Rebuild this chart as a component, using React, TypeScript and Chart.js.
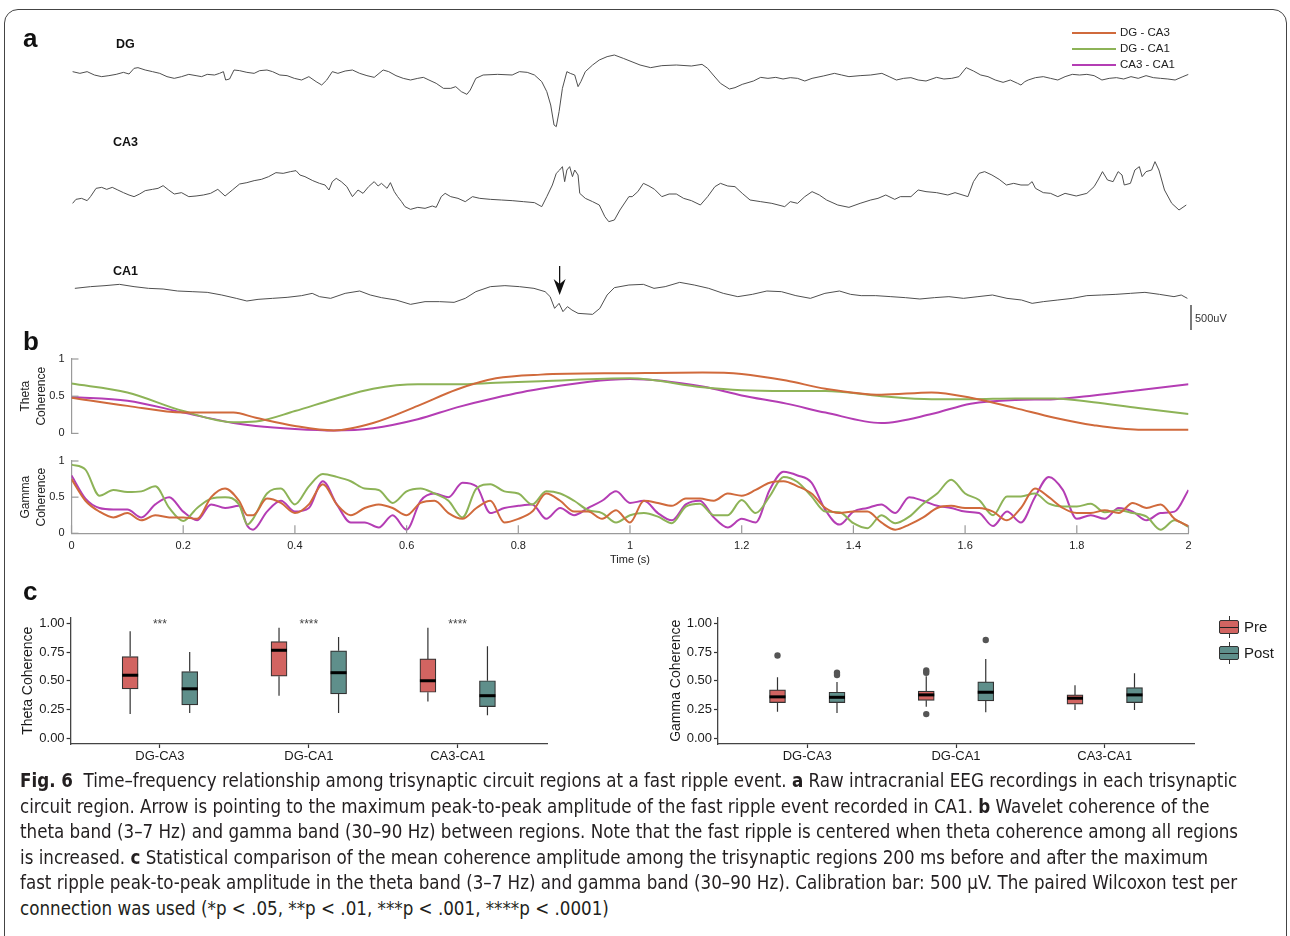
import React, { useEffect, useRef } from "react";
import { Chart, registerables } from "chart.js";

Chart.register(...registerables);

const FONT = '"Liberation Sans", Arial, Helvetica, sans-serif';
const CAPTION_FONT = '"Liberation Sans Narrow", "DejaVu Sans Condensed", "Liberation Sans", sans-serif';
Chart.defaults.font.family = FONT;

// ---------------- Panel a : raw traces (time s, amplitude µV re baseline) ----------------
const TRACE_NAMES = ["DG", "CA3", "CA1"];
const DG_TRACE = [
  [0.002, 67], [0.015, 33], [0.028, 67], [0.041, 0], [0.054, -33], [0.067, -13], [0.08, 13], [0.093, 53], [0.103, 20], [0.112, 133],
  [0.119, 147], [0.132, 100], [0.145, 67], [0.158, 33], [0.171, -33], [0.184, -67], [0.197, -33], [0.21, 13], [0.223, -13], [0.233, -33],
  [0.243, 13], [0.256, 0], [0.265, 33], [0.272, 67], [0.276, -100], [0.283, -80], [0.291, 100], [0.301, 87], [0.314, 53], [0.327, 33],
  [0.337, 87], [0.35, 100], [0.36, 67], [0.373, 0], [0.386, -13], [0.399, -67], [0.412, -100], [0.425, -33], [0.438, -133], [0.448, -200],
  [0.457, -100], [0.467, 67], [0.477, 33], [0.49, 80], [0.503, 100], [0.516, 33], [0.529, -13], [0.542, -47], [0.558, 100], [0.568, 67],
  [0.581, -13], [0.594, -67], [0.607, -100], [0.62, -67], [0.63, -47], [0.64, -100], [0.653, -167], [0.666, -267], [0.679, -267], [0.688, -233],
  [0.698, -333], [0.708, -387], [0.714, -300], [0.724, -67], [0.737, 0], [0.763, 13], [0.789, 0], [0.802, 67], [0.816, 53], [0.829, 0],
  [0.842, -133], [0.851, -333], [0.858, -600], [0.864, -1000], [0.868, -1033], [0.873, -733], [0.879, -267], [0.887, 67], [0.893, 33], [0.901, 0],
  [0.907, -233], [0.912, -133], [0.92, 67], [0.933, 200], [0.945, 300], [0.959, 367], [0.972, 400], [0.988, 333], [1.018, 200], [1.037, 147],
  [1.057, 187], [1.083, 200], [1.11, 180], [1.129, 213], [1.139, 133], [1.149, 0], [1.162, -167], [1.178, -280], [1.188, -253], [1.201, -187],
  [1.221, -120], [1.234, -47], [1.247, -67], [1.261, -47], [1.274, -80], [1.287, -53], [1.3, -67], [1.313, -120], [1.326, -67], [1.346, -20],
  [1.366, 33], [1.379, 0], [1.392, -33], [1.412, -13], [1.431, 0], [1.451, 33], [1.464, -33], [1.477, -100], [1.49, -67], [1.503, -53],
  [1.516, -100], [1.53, -120], [1.549, -47], [1.562, -80], [1.576, -67], [1.589, -33], [1.602, 147], [1.615, 80], [1.628, 0], [1.641, -33],
  [1.654, -100], [1.668, -147], [1.681, -100], [1.694, -167], [1.7, -200], [1.707, -133], [1.713, -100], [1.726, -53], [1.74, -33], [1.753, -67],
  [1.766, -100], [1.779, -33], [1.792, 13], [1.805, 0], [1.818, 13], [1.831, -13], [1.845, -100], [1.858, -67], [1.871, -53], [1.884, -80],
  [1.897, -33], [1.91, -67], [1.924, -13], [1.937, -53], [1.95, -67], [1.963, -80], [1.976, -100], [1.99, -33], [2.0, 13],
];
const CA3_TRACE = [
  [0.002, -267], [0.008, -187], [0.018, -167], [0.028, -213], [0.034, -133], [0.044, 33], [0.054, 53], [0.063, 13], [0.073, 53], [0.083, 0],
  [0.093, -53], [0.103, -100], [0.112, -133], [0.122, -80], [0.132, -13], [0.145, 13], [0.155, 33], [0.164, 87], [0.174, 0], [0.184, -80],
  [0.197, -53], [0.21, -133], [0.223, -120], [0.236, -100], [0.249, -67], [0.262, 13], [0.275, -120], [0.288, 0], [0.301, 120], [0.314, 147],
  [0.327, 187], [0.34, 213], [0.353, 267], [0.366, 347], [0.379, 333], [0.392, 367], [0.402, 387], [0.409, 300], [0.418, 267], [0.432, 187],
  [0.444, 133], [0.454, 100], [0.461, 0], [0.467, 167], [0.474, 233], [0.483, 167], [0.493, 67], [0.503, -133], [0.513, 0], [0.522, -67],
  [0.532, 67], [0.542, 167], [0.549, 80], [0.555, 133], [0.565, 33], [0.571, 147], [0.578, -33], [0.584, -133], [0.591, -233], [0.597, -333],
  [0.607, -387], [0.62, -347], [0.633, -367], [0.646, -320], [0.653, -347], [0.662, -133], [0.669, -67], [0.679, -133], [0.692, -167], [0.705, -233],
  [0.718, -133], [0.731, -167], [0.75, -187], [0.77, -200], [0.789, -213], [0.809, -233], [0.829, -253], [0.842, -333], [0.851, -133], [0.861, 100],
  [0.868, 333], [0.874, 400], [0.879, 467], [0.883, 167], [0.887, 400], [0.892, 467], [0.897, 267], [0.901, 400], [0.907, 300], [0.91, -67],
  [0.92, -167], [0.933, -233], [0.945, -300], [0.955, -533], [0.962, -633], [0.972, -600], [0.982, -400], [0.998, -133], [1.004, -133], [1.014, -33],
  [1.024, 133], [1.034, 80], [1.044, 13], [1.057, -133], [1.07, -80], [1.083, -80], [1.096, -167], [1.11, -213], [1.126, -300], [1.139, -133],
  [1.152, 67], [1.162, 133], [1.175, 80], [1.188, 67], [1.201, -67], [1.215, -200], [1.234, -233], [1.254, -267], [1.277, -333], [1.287, -233],
  [1.3, -267], [1.313, -133], [1.326, -33], [1.339, -100], [1.352, -200], [1.372, -300], [1.392, -347], [1.412, -267], [1.431, -200], [1.444, -167],
  [1.458, -100], [1.474, -187], [1.484, -133], [1.503, -133], [1.516, 0], [1.53, -33], [1.549, -53], [1.569, -100], [1.582, -53], [1.605, -133],
  [1.615, 167], [1.625, 333], [1.635, 367], [1.648, 300], [1.661, 213], [1.674, 100], [1.687, 133], [1.7, 100], [1.713, 100], [1.72, 167],
  [1.726, 33], [1.74, -53], [1.753, -67], [1.766, -133], [1.779, -67], [1.799, -120], [1.818, -67], [1.831, 67], [1.838, 200], [1.846, 367],
  [1.855, 200], [1.865, 167], [1.874, 367], [1.881, 300], [1.885, 100], [1.896, 133], [1.904, 400], [1.912, 467], [1.917, 267], [1.924, 367],
  [1.934, 400], [1.94, 567], [1.947, 400], [1.957, 0], [1.97, -267], [1.983, -400], [1.996, -300],
];
const CA1_TRACE = [
  [0.006, 153], [0.034, 187], [0.06, 207], [0.086, 233], [0.112, 187], [0.138, 153], [0.164, 140], [0.19, 100], [0.216, 87], [0.243, 73],
  [0.269, 20], [0.295, -47], [0.314, -100], [0.334, -67], [0.36, -47], [0.386, -27], [0.412, 7], [0.431, 53], [0.444, -13], [0.464, -47],
  [0.49, 53], [0.516, 100], [0.535, 20], [0.555, -33], [0.581, -80], [0.607, -167], [0.633, -113], [0.659, -113], [0.685, -127], [0.705, -47],
  [0.724, 87], [0.75, 187], [0.776, 207], [0.802, 187], [0.828, 153], [0.848, 87], [0.857, -13], [0.865, -247], [0.873, -147], [0.88, -313],
  [0.888, -213], [0.896, -280], [0.907, -347], [0.933, -367], [0.946, -247], [0.959, 20], [0.972, 167], [0.998, 220], [1.024, 233], [1.043, 153],
  [1.063, 187], [1.089, 273], [1.115, 220], [1.141, 153], [1.167, 53], [1.193, -13], [1.219, 33], [1.245, 100], [1.271, 87], [1.297, 7],
  [1.323, -47], [1.349, 53], [1.375, 100], [1.395, 33], [1.414, 7], [1.44, 7], [1.467, -13], [1.493, -33], [1.519, -60], [1.545, -33],
  [1.571, -13], [1.597, -47], [1.623, -13], [1.649, 20], [1.675, -47], [1.701, -80], [1.72, -147], [1.74, -113], [1.766, -80], [1.792, -47],
  [1.818, 7], [1.844, 20], [1.87, 33], [1.896, 53], [1.922, 73], [1.948, 33], [1.974, -13], [1.987, 20], [1.998, -47],
];
const ARROW_TIME = 0.874;
const CALIBRATION_UV = 500;

// ---------------- Panel b : wavelet coherence ----------------
const PAIRS = ["DG - CA3", "DG - CA1", "CA3 - CA1"];
const THETA_T = [0, 0.1, 0.2, 0.29, 0.33, 0.4, 0.47, 0.54, 0.62, 0.69, 0.76, 0.84, 1.0, 1.13, 1.2, 1.28, 1.35, 1.45, 1.54, 1.61, 1.69, 1.76, 1.83, 1.91, 2.0];
const THETA_DG_CA3 = [0.48, 0.37, 0.28, 0.28, 0.21, 0.1, 0.04, 0.14, 0.37, 0.59, 0.74, 0.79, 0.81, 0.82, 0.8, 0.71, 0.6, 0.52, 0.55, 0.48, 0.34, 0.21, 0.11, 0.05, 0.05];
const THETA_DG_CA1 = [0.67, 0.55, 0.3, 0.15, 0.16, 0.3, 0.46, 0.6, 0.66, 0.66, 0.68, 0.7, 0.74, 0.62, 0.58, 0.57, 0.57, 0.5, 0.46, 0.46, 0.47, 0.47, 0.42, 0.34, 0.26];
const THETA_CA3_CA1 = [0.49, 0.44, 0.28, 0.14, 0.1, 0.06, 0.04, 0.07, 0.19, 0.35, 0.48, 0.6, 0.73, 0.63, 0.51, 0.4, 0.28, 0.14, 0.26, 0.4, 0.45, 0.46, 0.51, 0.58, 0.66];

const GAMMA_T = [
  0, 0.025, 0.05, 0.075, 0.1, 0.125, 0.15, 0.175, 0.2, 0.225,
  0.25, 0.275, 0.3, 0.315, 0.325, 0.35, 0.375, 0.4, 0.425, 0.45,
  0.475, 0.5, 0.525, 0.55, 0.575, 0.6, 0.625, 0.65, 0.675, 0.7,
  0.725, 0.75, 0.775, 0.8, 0.825, 0.85, 0.875, 0.9, 0.925, 0.95,
  0.975, 1, 1.025, 1.05, 1.075, 1.1, 1.125, 1.15, 1.175, 1.2,
  1.225, 1.25, 1.275, 1.3, 1.325, 1.35, 1.375, 1.4, 1.425, 1.45,
  1.475, 1.5, 1.525, 1.55, 1.575, 1.6, 1.625, 1.65, 1.675, 1.7,
  1.725, 1.75, 1.775, 1.8, 1.825, 1.85, 1.875, 1.9, 1.925, 1.95,
  1.975, 2,
];
const GAMMA_DG_CA3 = [
  0.75, 0.45, 0.3, 0.22, 0.28, 0.18, 0.25, 0.22, 0.22, 0.2,
  0.5, 0.62, 0.45, 0.25, 0.25, 0.48, 0.42, 0.28, 0.4, 0.68,
  0.4, 0.25, 0.35, 0.4, 0.35, 0.25, 0.42, 0.45, 0.28, 0.2,
  0.35, 0.45, 0.15, 0.2, 0.3, 0.55, 0.45, 0.3, 0.3, 0.2,
  0.32, 0.15, 0.45, 0.42, 0.38, 0.48, 0.48, 0.45, 0.55, 0.52,
  0.6, 0.7, 0.72, 0.65, 0.55, 0.35, 0.28, 0.3, 0.3, 0.15,
  0.05, 0.12, 0.22, 0.35, 0.38, 0.35, 0.35, 0.3, 0.18, 0.35,
  0.62, 0.5, 0.35, 0.28, 0.28, 0.32, 0.28, 0.42, 0.35, 0.4,
  0.2, 0.1,
];
const GAMMA_DG_CA1 = [
  0.95, 0.88, 0.52, 0.6, 0.57, 0.58, 0.65, 0.35, 0.17, 0.35,
  0.48, 0.5, 0.4, 0.12, 0.2, 0.55, 0.62, 0.4, 0.65, 0.82,
  0.78, 0.72, 0.62, 0.6, 0.42, 0.58, 0.62, 0.55, 0.45, 0.22,
  0.62, 0.68, 0.58, 0.55, 0.4, 0.58, 0.55, 0.45, 0.32, 0.28,
  0.15, 0.25, 0.28, 0.23, 0.14, 0.37, 0.41, 0.25, 0.25, 0.46,
  0.28, 0.51, 0.78, 0.71, 0.51, 0.3, 0.29, 0.14, 0.07, 0.25,
  0.14, 0.23, 0.41, 0.55, 0.74, 0.55, 0.46, 0.25, 0.51, 0.51,
  0.55, 0.41, 0.37, 0.37, 0.41, 0.29, 0.32, 0.28, 0.23, 0.05,
  0.18, 0.09,
];
const GAMMA_CA3_CA1 = [
  0.8, 0.48, 0.35, 0.33, 0.33, 0.22, 0.4, 0.5, 0.3, 0.18,
  0.4, 0.35, 0.38, 0.1, 0.05, 0.3, 0.45, 0.3, 0.35, 0.72,
  0.4, 0.15, 0.15, 0.08, 0.25, 0.05, 0.45, 0.55, 0.5, 0.7,
  0.65, 0.28, 0.35, 0.38, 0.4, 0.2, 0.35, 0.25, 0.35, 0.45,
  0.58, 0.42, 0.45, 0.28, 0.18, 0.4, 0.45, 0.22, 0.08, 0.2,
  0.15, 0.6, 0.85, 0.8, 0.7, 0.32, 0.12, 0.3, 0.35, 0.4,
  0.28, 0.5, 0.45, 0.38, 0.35, 0.3, 0.28, 0.1, 0.3, 0.15,
  0.5, 0.78, 0.6, 0.2, 0.25, 0.2, 0.35, 0.3, 0.18, 0.28,
  0.3, 0.6,
];
const TIME_TICKS = [0, 0.2, 0.4, 0.6, 0.8, 1, 1.2, 1.4, 1.6, 1.8, 2];
const COH_TICKS = [0, 0.5, 1];

// ---------------- Panel c : box plots [min, q1, median, q3, max] ----------------
const CONNECTIONS = ["DG-CA3", "DG-CA1", "CA3-CA1"];
const BOX_TICKS = [0, 0.25, 0.5, 0.75, 1];
const THETA_PRE = [[0.21, 0.43, 0.548, 0.71, 0.93], [0.37, 0.54, 0.765, 0.84, 0.96], [0.32, 0.4, 0.5, 0.69, 0.96]];
const THETA_POST = [[0.22, 0.29, 0.43, 0.58, 0.75], [0.22, 0.385, 0.57, 0.76, 0.88], [0.2, 0.275, 0.37, 0.5, 0.8]];
const THETA_STARS = ["***", "****", "****"];
const GAMMA_PRE = [[0.23, 0.31, 0.36, 0.42, 0.53], [0.275, 0.33, 0.377, 0.41, 0.54], [0.246, 0.296, 0.348, 0.377, 0.46]];
const GAMMA_POST = [[0.22, 0.31, 0.356, 0.4, 0.49], [0.226, 0.325, 0.4, 0.49, 0.69], [0.246, 0.31, 0.377, 0.44, 0.565]];
const GAMMA_PRE_OUTLIERS = [[0.72], [0.59, 0.57, 0.21], []];
const GAMMA_POST_OUTLIERS = [[0.57, 0.55], [0.855], []];
const GROUPS = ["Pre", "Post"];

// ---------------- styles ----------------
const COL_DG_CA3 = "#d06a3c";
const COL_DG_CA1 = "#8db357";
const COL_CA3_CA1 = "#b43db4";
const PAIR_COLORS = [COL_DG_CA3, COL_DG_CA1, COL_CA3_CA1];
const PRE_FILL = "#d26461";
const POST_FILL = "#5f8f8b";
const BOX_EDGE = "#333333";
const MATLAB_AXIS = "#9a9a9a";

// layout (pixels / µV offsets for stacking traces)
const UV_PER_PX = 20;
const TRACE_BASE_PX = [75, 190, 296];
const CAL_BOTTOM_PX = 330;
const DODGE = 0.2;

function ChartCanvas({ left, top, width, height, make }) {
  const ref = useRef(null);
  useEffect(() => {
    const chart = new Chart(ref.current, make());
    return () => chart.destroy();
  }, []);
  return (
    <canvas
      ref={ref}
      width={width}
      height={height}
      style={{ position: "absolute", left, top, width, height }}
    />
  );
}

// ---------- panel a ----------
const traceDecor = {
  id: "traceDecor",
  afterDatasetsDraw(chart) {
    const { ctx } = chart;
    const x = chart.scales.x;
    const y = chart.scales.y;
    ctx.save();
    // arrow over CA1 fast ripple
    const ax = x.getPixelForValue(ARROW_TIME);
    const tip = y.getPixelForValue(-TRACE_BASE_PX[2] * UV_PER_PX + 20);
    ctx.strokeStyle = "#111";
    ctx.fillStyle = "#111";
    ctx.lineWidth = 1.3;
    ctx.beginPath();
    ctx.moveTo(ax, tip - 29);
    ctx.lineTo(ax, tip - 8);
    ctx.stroke();
    ctx.beginPath();
    ctx.moveTo(ax, tip);
    ctx.lineTo(ax - 6, tip - 16);
    ctx.lineTo(ax, tip - 11);
    ctx.lineTo(ax + 6, tip - 16);
    ctx.closePath();
    ctx.fill();
    // calibration bar
    const bx = x.getPixelForValue(2) + 2.5;
    const b0 = y.getPixelForValue(-CAL_BOTTOM_PX * UV_PER_PX);
    const b1 = y.getPixelForValue(-CAL_BOTTOM_PX * UV_PER_PX + CALIBRATION_UV);
    ctx.lineWidth = 1.2;
    ctx.strokeStyle = "#222";
    ctx.beginPath();
    ctx.moveTo(bx, b0);
    ctx.lineTo(bx, b1);
    ctx.stroke();
    ctx.font = "11px " + FONT;
    ctx.fillStyle = "#333";
    ctx.textBaseline = "middle";
    ctx.fillText(CALIBRATION_UV + "uV", bx + 4, (b0 + b1) / 2 + 1);
    ctx.restore();
  },
};

function makeTraces() {
  const traces = [DG_TRACE, CA3_TRACE, CA1_TRACE];
  return {
    type: "line",
    data: {
      datasets: traces.map((tr, i) => ({
        label: TRACE_NAMES[i],
        data: tr.map(([t, v]) => ({ x: t, y: v - TRACE_BASE_PX[i] * UV_PER_PX })),
        borderColor: "#4f4f4f",
        borderWidth: 1,
        pointRadius: 0,
        tension: 0,
      })),
    },
    options: {
      animation: false,
      responsive: false,
      events: [],
      layout: { padding: { left: 71.5, right: 101.5, top: 0, bottom: 0 } },
      plugins: { legend: { display: false }, tooltip: { enabled: false } },
      scales: {
        x: { type: "linear", min: 0, max: 2, display: false },
        y: { type: "linear", min: -345 * UV_PER_PX, max: 0, display: false },
      },
    },
    plugins: [traceDecor],
  };
}

// ---------- panel b ----------
const inwardTicks = {
  id: "inwardTicks",
  afterDraw(chart) {
    const { ctx, chartArea } = chart;
    ctx.save();
    ctx.strokeStyle = MATLAB_AXIS;
    ctx.lineWidth = 1.2;
    const y = chart.scales.y;
    COH_TICKS.forEach((v) => {
      const py = y.getPixelForValue(v);
      ctx.beginPath();
      ctx.moveTo(chartArea.left, py);
      ctx.lineTo(chartArea.left + 7, py);
      ctx.stroke();
    });
    const x = chart.scales.x;
    if (x.options.display) {
      TIME_TICKS.forEach((v) => {
        const px = x.getPixelForValue(v);
        ctx.beginPath();
        ctx.moveTo(px, chartArea.bottom);
        ctx.lineTo(px, chartArea.bottom - 8);
        ctx.stroke();
      });
    }
    ctx.restore();
  },
};

function makeCoherence(times, series, title, showX) {
  return {
    type: "line",
    data: {
      datasets: series.map((vals, i) => ({
        label: PAIRS[i],
        data: times.map((t, k) => ({ x: t, y: vals[k] })),
        borderColor: PAIR_COLORS[i],
        borderWidth: 2,
        pointRadius: 0,
        cubicInterpolationMode: "monotone",
      })),
    },
    options: {
      animation: false,
      responsive: false,
      events: [],
      layout: { padding: { left: 0, right: 101.5, top: showX ? 16 : 19, bottom: showX ? 0 : 2 } },
      plugins: { legend: { display: false }, tooltip: { enabled: false } },
      scales: {
        x: {
          type: "linear",
          min: 0,
          max: 2,
          display: showX,
          afterBuildTicks: (s) => {
            s.ticks = TIME_TICKS.map((v) => ({ value: v }));
          },
          ticks: {
            autoSkip: false,
            maxRotation: 0,
            padding: 6,
            color: "#222",
            font: { size: 11 },
            callback: (v) => String(Number(Number(v).toFixed(1))),
          },
          grid: { display: false, drawTicks: false },
          border: { display: true, color: MATLAB_AXIS, width: 1.2 },
          title: { display: true, text: "Time (s)", color: "#222", font: { size: 11 }, padding: { top: 0, bottom: 3 } },
          afterFit: (s) => {
            if (showX) s.height = 36.7;
          },
        },
        y: {
          type: "linear",
          min: 0,
          max: 1,
          afterBuildTicks: (s) => {
            s.ticks = COH_TICKS.map((v) => ({ value: v }));
          },
          ticks: { padding: 7, color: "#222", font: { size: 11 }, callback: (v) => String(Number(v)) },
          grid: { display: false, drawTicks: false },
          border: { display: true, color: MATLAB_AXIS, width: 1.2 },
          title: {
            display: true,
            text: title,
            color: "#222",
            font: { size: 12, lineHeight: 1.3 },
            padding: { top: 18, bottom: 0 },
          },
          afterFit: (s) => {
            s.width = 71.5;
          },
        },
      },
    },
    plugins: [inwardTicks],
  };
}

// ---------- panel c ----------
const boxDecor = {
  id: "boxDecor",
  beforeDatasetsDraw(chart, args, opts) {
    const { ctx } = chart;
    const x = chart.scales.x;
    const y = chart.scales.y;
    ctx.save();
    ctx.strokeStyle = BOX_EDGE;
    ctx.lineWidth = 1.2;
    [opts.pre, opts.post].forEach((grp, g) => {
      grp.forEach((b, i) => {
        const px = x.getPixelForValue(i + 1 + (g === 0 ? -DODGE : DODGE));
        ctx.beginPath();
        ctx.moveTo(px, y.getPixelForValue(b[0]));
        ctx.lineTo(px, y.getPixelForValue(b[1]));
        ctx.moveTo(px, y.getPixelForValue(b[3]));
        ctx.lineTo(px, y.getPixelForValue(b[4]));
        ctx.stroke();
      });
    });
    ctx.restore();
  },
  afterDatasetsDraw(chart, args, opts) {
    const { ctx } = chart;
    const x = chart.scales.x;
    const y = chart.scales.y;
    ctx.save();
    ctx.strokeStyle = "#000";
    ctx.lineWidth = 3;
    [opts.pre, opts.post].forEach((grp, g) => {
      grp.forEach((b, i) => {
        const px = x.getPixelForValue(i + 1 + (g === 0 ? -DODGE : DODGE));
        const py = y.getPixelForValue(b[2]);
        ctx.beginPath();
        ctx.moveTo(px - 8, py);
        ctx.lineTo(px + 8, py);
        ctx.stroke();
      });
    });
    if (opts.stars) {
      ctx.fillStyle = "#444";
      ctx.font = "12px " + FONT;
      ctx.textAlign = "center";
      ctx.textBaseline = "alphabetic";
      opts.stars.forEach((s, i) => {
        ctx.fillText(s, x.getPixelForValue(i + 1), y.getPixelForValue(0.962));
      });
    }
    ctx.restore();
  },
};

function makeBox(pre, post, preOut, postOut, title, stars, yWidth, rightPad, titlePad) {
  const outliers = [];
  preOut.forEach((arr, i) => arr.forEach((v) => outliers.push({ x: i + 1 - DODGE, y: v })));
  postOut.forEach((arr, i) => arr.forEach((v) => outliers.push({ x: i + 1 + DODGE, y: v })));
  const boxDs = (grp, g) => ({
    type: "bar",
    label: GROUPS[g],
    data: grp.map((b, i) => ({ x: i + 1 + (g === 0 ? -DODGE : DODGE), y: [b[1], b[3]] })),
    backgroundColor: g === 0 ? PRE_FILL : POST_FILL,
    borderColor: BOX_EDGE,
    borderWidth: 1.2,
    borderSkipped: false,
    barThickness: 16,
    grouped: false,
  });
  return {
    type: "bar",
    data: {
      datasets: [
        boxDs(pre, 0),
        boxDs(post, 1),
        { type: "scatter", label: "outliers", data: outliers, pointRadius: 3.2, backgroundColor: "#555", borderWidth: 0 },
      ],
    },
    options: {
      animation: false,
      responsive: false,
      events: [],
      layout: { padding: { left: 0, right: rightPad, top: 17.5, bottom: 0 } },
      plugins: {
        legend: { display: false },
        tooltip: { enabled: false },
        boxDecor: { pre, post, stars },
      },
      scales: {
        x: {
          type: "linear",
          min: 0.4,
          max: 3.6,
          offset: false,
          afterBuildTicks: (s) => {
            s.ticks = [1, 2, 3].map((v) => ({ value: v }));
          },
          ticks: {
            autoSkip: false,
            maxRotation: 0,
            padding: 1,
            color: "#1a1a1a",
            font: { size: 13 },
            callback: (v) => CONNECTIONS[Math.round(v) - 1],
          },
          grid: { display: true, offset: false, drawOnChartArea: false, drawTicks: true, tickLength: 4, color: BOX_EDGE, tickWidth: 1.2 },
          border: { display: true, color: "#444", width: 1.3 },
          afterFit: (s) => {
            s.height = 26;
          },
        },
        y: {
          type: "linear",
          min: -0.05,
          max: 1.05,
          afterBuildTicks: (s) => {
            s.ticks = BOX_TICKS.map((v) => ({ value: v }));
          },
          ticks: { padding: 2, color: "#1a1a1a", font: { size: 13 }, callback: (v) => Number(v).toFixed(2) },
          grid: { display: true, drawOnChartArea: false, drawTicks: true, tickLength: 4, color: BOX_EDGE, tickWidth: 1.2 },
          border: { display: true, color: "#444", width: 1.3 },
          title: { display: true, text: title, color: "#1a1a1a", font: { size: 14 }, padding: { top: titlePad, bottom: 4 } },
          afterFit: (s) => {
            s.width = yWidth;
          },
        },
      },
    },
    plugins: [boxDecor],
  };
}

function Txt({ left, top, size, bold, children, color, family }) {
  return (
    <div
      style={{
        position: "absolute",
        left,
        top,
        fontSize: size,
        lineHeight: 1,
        fontWeight: bold ? 700 : 400,
        fontFamily: family || FONT,
        color: color || "#111",
        whiteSpace: "nowrap",
      }}
    >
      {children}
    </div>
  );
}

function BoxKey({ top, fill, label }) {
  return (
    <>
      <div style={{ position: "absolute", left: 1228.5, top: top - 4, width: 1.2, height: 22, background: "#333" }} />
      <div
        style={{
          position: "absolute",
          left: 1219,
          top,
          width: 18,
          height: 12,
          background: fill,
          border: "1.2px solid #333",
          borderRadius: 2,
        }}
      />
      <div style={{ position: "absolute", left: 1220, top: top + 6.5, width: 18, height: 1.5, background: "#222" }} />
      <Txt left={1244} top={top - 1} size={15} color="#1a1a1a">{label}</Txt>
    </>
  );
}

const CAP_LINE = 25.5;
function CapLine({ i, children }) {
  return (
    <div
      style={{
        position: "absolute",
        left: 20,
        top: 768 + i * CAP_LINE,
        fontFamily: CAPTION_FONT,
        fontSize: 18.6,
        lineHeight: CAP_LINE + "px",
        color: "#231f20",
        whiteSpace: "nowrap",
      }}
    >
      {children}
    </div>
  );
}

export default function App() {
  return (
    <div style={{ position: "absolute", left: 0, top: 0, width: 1290, height: 936, background: "#fff", overflow: "hidden" }}>
      <div
        style={{
          position: "absolute",
          left: 4,
          top: 9,
          width: 1281,
          height: 940,
          border: "1px solid #444",
          borderRadius: 14,
        }}
      />
      <ChartCanvas left={0} top={0} width={1290} height={345} make={makeTraces} />
      <ChartCanvas
        left={0}
        top={340}
        width={1290}
        height={107}
        make={() => makeCoherence(THETA_T, [THETA_DG_CA3, THETA_DG_CA1, THETA_CA3_CA1], ["Theta", "Coherence"], false)}
      />
      <ChartCanvas
        left={0}
        top={445}
        width={1290}
        height={125}
        make={() => makeCoherence(GAMMA_T, [GAMMA_DG_CA3, GAMMA_DG_CA1, GAMMA_CA3_CA1], ["Gamma", "Coherence"], true)}
      />
      <ChartCanvas
        left={0}
        top={600}
        width={640}
        height={170}
        make={() => makeBox(THETA_PRE, THETA_POST, [[], [], []], [[], [], []], "Theta Coherence", THETA_STARS, 70.6, 93, 20)}
      />
      <ChartCanvas
        left={640}
        top={600}
        width={650}
        height={170}
        make={() => makeBox(GAMMA_PRE, GAMMA_POST, GAMMA_PRE_OUTLIERS, GAMMA_POST_OUTLIERS, "Gamma Coherence", null, 78, 96, 28)}
      />

      <Txt left={23} top={25} size={26} bold>a</Txt>
      <Txt left={23} top={328} size={26} bold>b</Txt>
      <Txt left={23} top={578} size={26} bold>c</Txt>
      <Txt left={116} top={37.5} size={12.5} bold>{TRACE_NAMES[0]}</Txt>
      <Txt left={113} top={135.5} size={12.5} bold>{TRACE_NAMES[1]}</Txt>
      <Txt left={113} top={264.5} size={12.5} bold>{TRACE_NAMES[2]}</Txt>

      {PAIRS.map((p, i) => (
        <React.Fragment key={p}>
          <div style={{ position: "absolute", left: 1072, top: 32 + i * 16.2, width: 44, height: 2, background: PAIR_COLORS[i] }} />
          <Txt left={1120} top={27 + i * 16.2} size={11.5} color="#222">{p}</Txt>
        </React.Fragment>
      ))}

      <BoxKey top={620} fill={PRE_FILL} label={GROUPS[0]} />
      <BoxKey top={646} fill={POST_FILL} label={GROUPS[1]} />

      <CapLine i={0}>
        <b>Fig. 6</b>&nbsp; Time–frequency relationship among trisynaptic circuit regions at a fast ripple event. <b>a</b> Raw intracranial EEG recordings in each trisynaptic
      </CapLine>
      <CapLine i={1}>
        circuit region. Arrow is pointing to the maximum peak-to-peak amplitude of the fast ripple event recorded in CA1. <b>b</b> Wavelet coherence of the
      </CapLine>
      <CapLine i={2}>
        theta band (3–7 Hz) and gamma band (30–90 Hz) between regions. Note that the fast ripple is centered when theta coherence among all regions
      </CapLine>
      <CapLine i={3}>
        is increased. <b>c</b> Statistical comparison of the mean coherence amplitude among the trisynaptic regions 200 ms before and after the maximum
      </CapLine>
      <CapLine i={4}>
        fast ripple peak-to-peak amplitude in the theta band (3–7 Hz) and gamma band (30–90 Hz). Calibration bar: 500 μV. The paired Wilcoxon test per
      </CapLine>
      <CapLine i={5}>
        connection was used (*p &lt; .05, **p &lt; .01, ***p &lt; .001, ****p &lt; .0001)
      </CapLine>
    </div>
  );
}
